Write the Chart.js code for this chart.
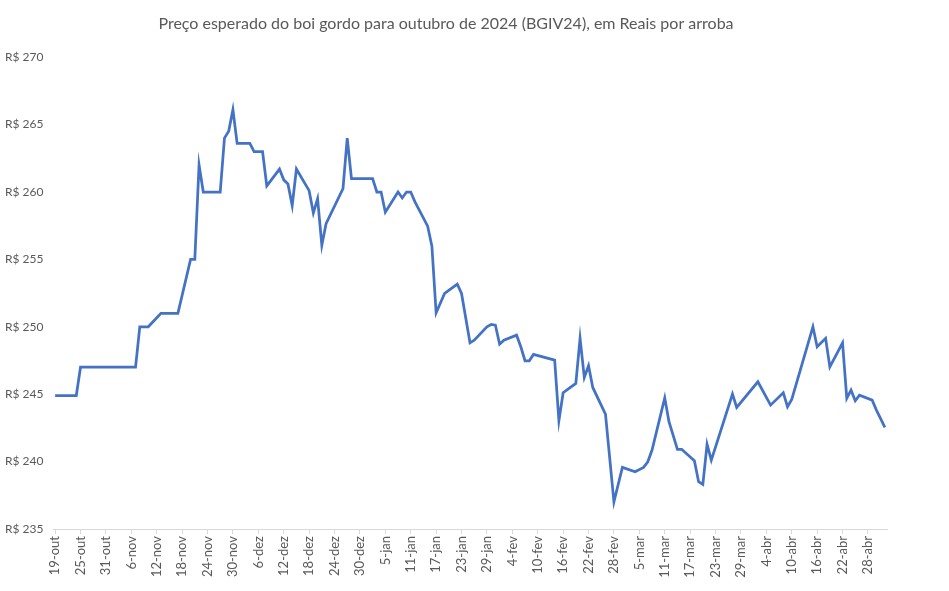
<!DOCTYPE html>
<html>
<head>
<meta charset="utf-8">
<script src="https://cdn.jsdelivr.net/npm/chart.js@4"></script>
<style>
html,body{margin:0;padding:0;background:#fff;}
#wrap{width:949px;height:591px;}
</style>
</head>
<body>
<div id="wrap"><canvas id="c" width="949" height="591"></canvas></div>
<script>
const titleText = "Preço esperado do boi gordo para outubro de 2024 (BGIV24), em Reais por arroba";
const startDate = "2023-10-19";
const endDate = "2024-05-03";
const tickLabels = ["19-out","25-out","31-out","6-nov","12-nov","18-nov","24-nov","30-nov","6-dez","12-dez","18-dez","24-dez","30-dez","5-jan","11-jan","17-jan","23-jan","29-jan","4-fev","10-fev","16-fev","22-fev","28-fev","5-mar","11-mar","17-mar","23-mar","29-mar","4-abr","10-abr","16-abr","22-abr","28-abr"];
const yTicks = [235,240,245,250,255,260,265,270];

const dates = [
"2023-10-19","2023-10-20","2023-10-23","2023-10-24",
"2023-10-25","2023-10-26","2023-10-27","2023-10-30","2023-10-31","2023-11-01","2023-11-03","2023-11-06","2023-11-07",
"2023-11-08","2023-11-09","2023-11-10",
"2023-11-13","2023-11-14","2023-11-16","2023-11-17",
"2023-11-20","2023-11-21",
"2023-11-22","2023-11-23","2023-11-24","2023-11-27",
"2023-11-28","2023-11-29","2023-11-30",
"2023-12-01","2023-12-04","2023-12-05","2023-12-06","2023-12-07",
"2023-12-08","2023-12-11","2023-12-12","2023-12-13","2023-12-14","2023-12-15","2023-12-18","2023-12-19","2023-12-20","2023-12-21","2023-12-22",
"2023-12-26","2023-12-27","2023-12-28","2023-12-29","2024-01-02","2024-01-03","2024-01-04","2024-01-05",
"2024-01-08","2024-01-09","2024-01-10","2024-01-11","2024-01-12","2024-01-15","2024-01-16","2024-01-17","2024-01-19",
"2024-01-22","2024-01-23","2024-01-25","2024-01-26","2024-01-29","2024-01-30","2024-01-31","2024-02-01","2024-02-02",
"2024-02-05","2024-02-06","2024-02-07","2024-02-08","2024-02-09","2024-02-14","2024-02-15","2024-02-16",
"2024-02-19","2024-02-20","2024-02-21","2024-02-22","2024-02-23","2024-02-26","2024-02-28","2024-03-01",
"2024-03-04","2024-03-06","2024-03-07","2024-03-08","2024-03-11","2024-03-12","2024-03-14","2024-03-15",
"2024-03-18","2024-03-19","2024-03-20","2024-03-21","2024-03-22","2024-03-27","2024-03-28",
"2024-04-02","2024-04-05","2024-04-08","2024-04-09","2024-04-10","2024-04-15","2024-04-16","2024-04-18","2024-04-19",
"2024-04-22","2024-04-23","2024-04-24","2024-04-25","2024-04-26","2024-04-29","2024-04-30","2024-05-02"
];
const prices = [
244.9,244.9,244.9,244.9,
247.0,247.0,247.0,247.0,247.0,247.0,247.0,247.0,247.0,
250.0,250.0,250.0,
251.0,251.0,251.0,251.0,
255.0,255.0,
262.0,260.0,260.0,260.0,
264.0,264.5,266.1,
263.6,263.6,263.0,263.0,263.0,
260.45,261.7,260.9,260.6,259.0,261.7,260.1,258.45,259.5,256.05,257.65,
260.25,264.0,261.0,261.0,261.0,260.0,260.0,258.5,
260.0,259.56,260.0,260.0,259.27,257.46,255.98,251.04,252.47,
253.16,252.47,248.81,249.0,250.0,250.17,250.12,248.71,249.0,
249.38,248.52,247.48,247.48,247.95,247.53,243.03,245.11,
245.8,249.14,246.24,247.11,245.5,243.52,237.02,239.57,
239.25,239.57,239.99,240.86,244.73,242.96,240.91,240.91,
240.06,238.51,238.31,241.28,240.11,245.01,244.02,
245.92,244.19,245.11,244.07,244.61,250.0,248.52,249.14,247.03,
248.81,244.69,245.3,244.51,244.93,244.56,243.82,242.54
];

const DAY = 86400000;
const t0 = Date.parse(startDate + "T00:00:00Z");
const dayIndex = s => Math.round((Date.parse(s + "T00:00:00Z") - t0) / DAY);
const nDays = dayIndex(endDate);
const points = dates.map((d, i) => ({x: dayIndex(d), y: prices[i]}));

const FONT = "Lato, 'Open Sans', sans-serif";
const GREY = "#595959";

new Chart(document.getElementById("c"), {
  type: "line",
  data: {
    datasets: [{
      data: points,
      borderColor: "#4472C4",
      borderWidth: 2.75,
      pointRadius: 0,
      tension: 0,
      fill: false
    }]
  },
  options: {
    responsive: false,
    animation: false,
    layout: {padding: {left: 5, right: 62, top: 0, bottom: 0}},
    plugins: {
      legend: {display: false},
      tooltip: {enabled: false},
      title: {
        display: true,
        text: titleText,
        color: GREY,
        font: {family: FONT, size: 16, weight: "normal"},
        padding: {top: 14, bottom: 24}
      }
    },
    scales: {
      x: {
        type: "linear",
        min: -0.5,
        max: nDays - 0.5,
        afterBuildTicks: s => { s.ticks = tickLabels.map((l, i) => ({value: i * 6})); },
        afterFit: s => { s.height = 62; },
        ticks: {
          autoSkip: false,
          maxRotation: 90,
          minRotation: 90,
          color: GREY,
          font: {family: FONT, size: 13},
          padding: 2,
          callback: (v) => tickLabels[Math.round(v / 6)]
        },
        grid: {drawOnChartArea: false, color: "#d9d9d9", tickLength: 5, lineWidth: 1},
        border: {display: true, color: "#d9d9d9", width: 1}
      },
      y: {
        min: 235,
        max: 270,
        afterBuildTicks: s => { s.ticks = yTicks.map(v => ({value: v})); },
        afterFit: s => { s.width = 48; },
        ticks: {
          color: GREY,
          font: {family: FONT, size: 12},
          crossAlign: "far",
          callback: v => "R$ " + v
        },
        grid: {display: false},
        border: {display: false}
      }
    }
  }
});
</script>
</body>
</html>
